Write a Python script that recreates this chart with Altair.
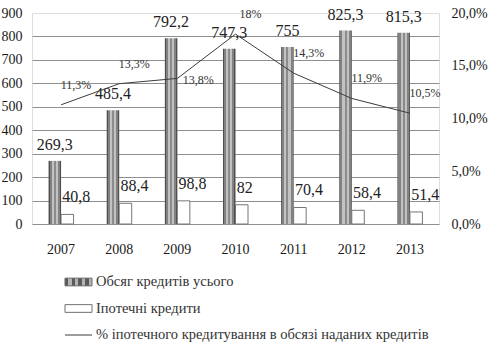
import json
import altair as alt
import pandas as pd

years = ["2007", "2008", "2009", "2010", "2011", "2012", "2013"]
total = [269.3, 485.4, 792.2, 747.3, 755, 825.3, 815.3]
mortgage = [40.8, 88.4, 98.8, 82, 70.4, 58.4, 51.4]
share = [11.3, 13.3, 13.8, 18, 14.3, 11.9, 10.5]

S1 = "Обсяг кредитів усього"
S2 = "Іпотечні кредити"
S3 = "% іпотечного кредитування в обсязі наданих кредитів"

bars = pd.DataFrame(
    {"year": years * 2, "series": [S1] * len(years) + [S2] * len(years), "value": total + mortgage}
)
line = pd.DataFrame({"year": years, "series": [S3] * len(years), "value": share})

FONT = "Liberation Serif, Times New Roman, serif"

xscale = alt.Scale(domain=years, paddingInner=0.57, paddingOuter=0.285)
xaxis = alt.Axis(title=None, labelFont=FONT, labelFontSize=14, labelColor="#1a1a1a",
                 ticks=False, domain=False, labelPadding=18, labelAngle=0)
X = alt.X("year:N", scale=xscale, axis=xaxis, sort=years)
XO = alt.XOffset("series:N", scale=alt.Scale(domain=[S1, S2], paddingInner=0, paddingOuter=0))

yl_axis = alt.Axis(title=None, values=list(range(0, 1000, 100)), labelFont=FONT, labelFontSize=14,
                   labelColor="#1a1a1a", ticks=False, domain=False, labelPadding=10,
                   grid=True, gridColor={"condition": {"test": "datum.value >= 900", "value": "transparent"},
                                         "value": "#8f8f8f"},
                   gridWidth=1.1)
YL = alt.Y("value:Q", scale=alt.Scale(domain=[0, 900], nice=False), axis=yl_axis)

yr_axis = alt.Axis(title=None, orient="right", values=[0, 5, 10, 15, 20], labelFont=FONT,
                   labelFontSize=14, labelColor="#1a1a1a", ticks=False, domain=False,
                   labelPadding=12, grid=False,
                   labelExpr="replace(format(datum.value, '.1f'), '.', ',') + '%'")
YR = alt.Y("value:Q", scale=alt.Scale(domain=[0, 20], nice=False), axis=yr_axis)

stripe = [(0, 0.08, "#4f4f4f"), (0.08, 0.25, "#828282"), (0.25, 0.42, "#c2c2c2"),
          (0.42, 0.58, "#8c8c8c"), (0.58, 0.75, "#c2c2c2"), (0.75, 0.92, "#828282"),
          (0.92, 1, "#4f4f4f")]
stops = []
for a, b, c in stripe:
    stops.append(alt.GradientStop(offset=a, color=c))
    stops.append(alt.GradientStop(offset=b, color=c))
bar_grad = alt.LinearGradient(gradient="linear", x1=0, y1=0, x2=1, y2=0, stops=stops)

base_bars = alt.Chart(bars)

gray = base_bars.transform_filter(alt.datum.series == S1).mark_bar(color=bar_grad).encode(
    x=X, xOffset=XO, y=YL
)
white = base_bars.transform_filter(alt.datum.series == S2).mark_bar(
    color="#ffffff", stroke="#767676", strokeWidth=1
).encode(x=X, xOffset=XO, y=YL)

gray_lbl = base_bars.transform_filter(alt.datum.series == S1).transform_calculate(
    lbl="replace(toString(datum.value), '.', ',')"
).mark_text(font=FONT, fontSize=16, color="#222222", baseline="bottom", dy=-8).encode(
    x=X, xOffset=XO, y=YL, text="lbl:N"
)
white_lbl = base_bars.transform_filter(alt.datum.series == S2).transform_calculate(
    lbl="replace(toString(datum.value), '.', ',')"
).mark_text(font=FONT, fontSize=16, color="#222222", baseline="middle", align="left",
            dx=-5, dy=-17).encode(
    x=X, xOffset=XO, y=YL, text="lbl:N"
)

left = alt.layer(gray, white, gray_lbl, white_lbl)

leg_stops = []
for i in range(8):
    c = "#5a5a5a" if i % 2 == 0 else "#b4b4b4"
    leg_stops.append({"offset": i / 8, "color": c})
    leg_stops.append({"offset": (i + 1) / 8, "color": c})
grad_legend = {"gradient": "linear", "x1": 0, "y1": 0, "x2": 1, "y2": 0, "stops": leg_stops}
g = json.dumps(grad_legend)

legend = alt.Legend(
    orient="none", legendX=39, legendY=261.5, direction="vertical", title=None,
    labelFont=FONT, labelFontSize=14.5, labelColor="#333333", labelLimit=600,
    rowPadding=11.5, symbolSize=196, labelOffset=10, padding=0, offset=0,
    symbolType={"expr": f"datum.value === '{S3}' ? 'M-1.93,0H1.93' : 'M-1.93,-0.55H1.93V0.55H-1.93Z'"},
    symbolFillColor={"expr": f"datum.value === '{S1}' ? {g} : (datum.value === '{S2}' ? '#ffffff' : 'transparent')"},
    symbolStrokeWidth=1,
    symbolOpacity=1,
)

color = alt.Color("series:N", scale=alt.Scale(domain=[S1, S2, S3], range=["#6a6a6a", "#707070", "#3c3c3c"]),
                  legend=legend)

base_line = alt.Chart(line)
ln = base_line.mark_line(strokeWidth=1).encode(x=X, y=YR, color=color)

pct_lbl = base_line.transform_filter(alt.datum.year != "2009").transform_calculate(
    lbl="replace(toString(datum.value), '.', ',') + '%'"
).mark_text(font=FONT, fontSize=12, color="#333333", dx=15, dy=-20).encode(
    x=X, y=YR, text="lbl:N"
)
pct_lbl2 = base_line.transform_filter(alt.datum.year == "2009").transform_calculate(
    lbl="replace(toString(datum.value), '.', ',') + '%'"
).mark_text(font=FONT, fontSize=12, color="#333333", dx=21, dy=2).encode(
    x=X, y=YR, text="lbl:N"
)

right = alt.layer(ln, pct_lbl, pct_lbl2)

chart = alt.layer(left, right).resolve_scale(y="independent").properties(
    width=407, height=211,
    autosize=alt.AutoSizeParams(type="none"),
    padding={"left": 32, "top": 13, "right": 56, "bottom": 130},
).configure_view(stroke="transparent").configure(background="#ffffff")

chart.save("out.html", embed_options={"renderer": "svg", "actions": False})
